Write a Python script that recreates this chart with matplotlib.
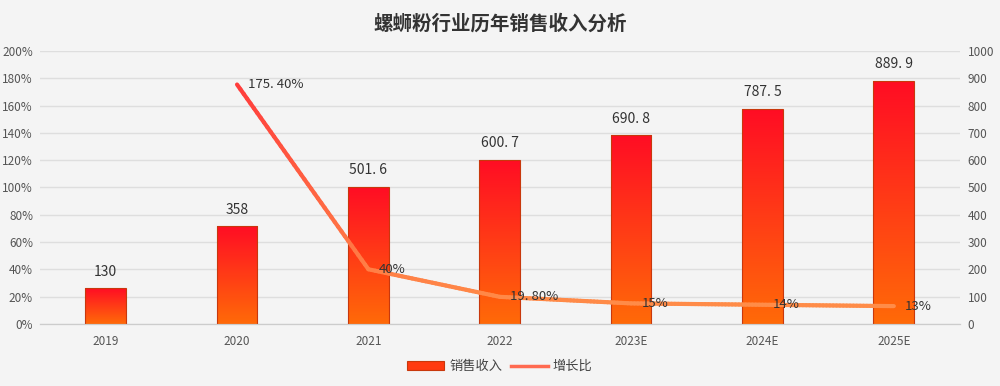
import numpy as np
import matplotlib.pyplot as plt
from matplotlib.collections import LineCollection
from matplotlib.colors import LinearSegmentedColormap
from matplotlib.patches import Patch
from matplotlib.lines import Line2D

plt.rcParams['font.family'] = ['Noto Sans CJK SC', 'DejaVu Sans']

# data
years = ['2019', '2020', '2021', '2022', '2023E', '2024E', '2025E']
revenue = [130, 358, 501.6, 600.7, 690.8, 787.5, 889.9]
revenue_labels = ['130', '358', '501. 6', '600. 7', '690. 8', '787. 5', '889. 9']
growth = [None, 175.4, 40, 19.8, 15, 14, 13]
growth_labels = ['', '175. 40%', '40%', '19. 80%', '15%', '14%', '13%']

bg = '#f4f4f4'
bar_cmap = LinearSegmentedColormap.from_list('bar', ['#ff6a08', '#ff0d24'])
line_cmap = LinearSegmentedColormap.from_list('line', ['#ff8c48', '#ff3c3c'])

fig = plt.figure(figsize=(10, 3.86), dpi=100, facecolor=bg)
ax = fig.add_axes([0.04, 0.161, 0.9195, 0.707])
ax.set_facecolor(bg)
ax2 = ax.twinx()

x = np.arange(len(years))
bar_w = 0.31

# bars on value axis (right side)
ax.set_xlim(-0.5, len(years) - 0.5)
ax.set_ylim(0, 1000)
ax.set_yticks(np.arange(0, 1001, 100))
ax.yaxis.tick_right()
ax.grid(axis='y', color='#dedede', lw=1)
ax.set_axisbelow(True)
grad = np.linspace(0, 1, 256).reshape(-1, 1)
for xi, v, lab in zip(x, revenue, revenue_labels):
    rect = ax.bar(xi, v, width=bar_w, color='none', edgecolor='#c8380c', lw=0.8, zorder=3)[0]
    im = ax.imshow(grad, cmap=bar_cmap, origin='lower', aspect='auto',
                   extent=[xi - bar_w / 2, xi + bar_w / 2, 0, v], zorder=2)
    im.set_clip_path(rect)
    ax.text(xi, v + 35, lab, ha='center', va='bottom', fontsize=10, color='#333333')

# growth line on percent axis (left side)
ax2.set_ylim(0, 200)
ax2.set_yticks(np.arange(0, 201, 20))
ax2.set_yticklabels([f'{t}%' for t in range(0, 201, 20)])
ax2.yaxis.tick_left()
gx = [xi for xi, g in zip(x, growth) if g is not None]
gy = [g for g in growth if g is not None]
segs, cols = [], []
gmin, gmax = min(gy), max(gy)
for i in range(len(gx) - 1):
    t = np.linspace(0, 1, 40)
    xs = gx[i] + (gx[i + 1] - gx[i]) * t
    ys = gy[i] + (gy[i + 1] - gy[i]) * t
    pts = np.column_stack([xs, ys])
    for j in range(len(t) - 1):
        segs.append(pts[j:j + 2])
        cols.append(line_cmap(((ys[j] + ys[j + 1]) / 2 - gmin) / (gmax - gmin)))
ax2.add_collection(LineCollection(segs, colors=cols, lw=3, capstyle='round', zorder=4))
for xi, g, lab in zip(x, growth, growth_labels):
    if g is None:
        continue
    ax2.text(xi + 0.08, g, lab, ha='left', va='center', fontsize=9.5, color='#333333', zorder=5)

for a in (ax, ax2):
    for s in ('top', 'left', 'right'):
        a.spines[s].set_visible(False)
    a.spines['bottom'].set_color('#cccccc')
    a.tick_params(axis='y', length=0, labelsize=8.5, labelcolor='#555555')
ax.tick_params(axis='y', pad=6)
ax2.tick_params(axis='y', pad=5)
ax.set_xticks(x)
ax.set_xticklabels(years)
ax.tick_params(axis='x', length=0, labelsize=8.5, labelcolor='#555555', pad=8)

fig.suptitle('螺蛳粉行业历年销售收入分析', y=0.965, fontsize=14, fontweight='bold', color='#333333')

handles = [Patch(facecolor='#ff3a10', edgecolor='#c8380c', lw=0.8),
           Line2D([0], [0], color='#ff6a50', lw=2.5)]
fig.legend(handles, ['销售收入', '增长比'], loc='center', bbox_to_anchor=(0.5, 0.05), ncol=2,
           frameon=False, fontsize=9.5, handlelength=2.8, handletextpad=0.4, columnspacing=0.6,
           labelcolor='#444444')

fig.savefig('out.png', dpi=100, facecolor=bg)
